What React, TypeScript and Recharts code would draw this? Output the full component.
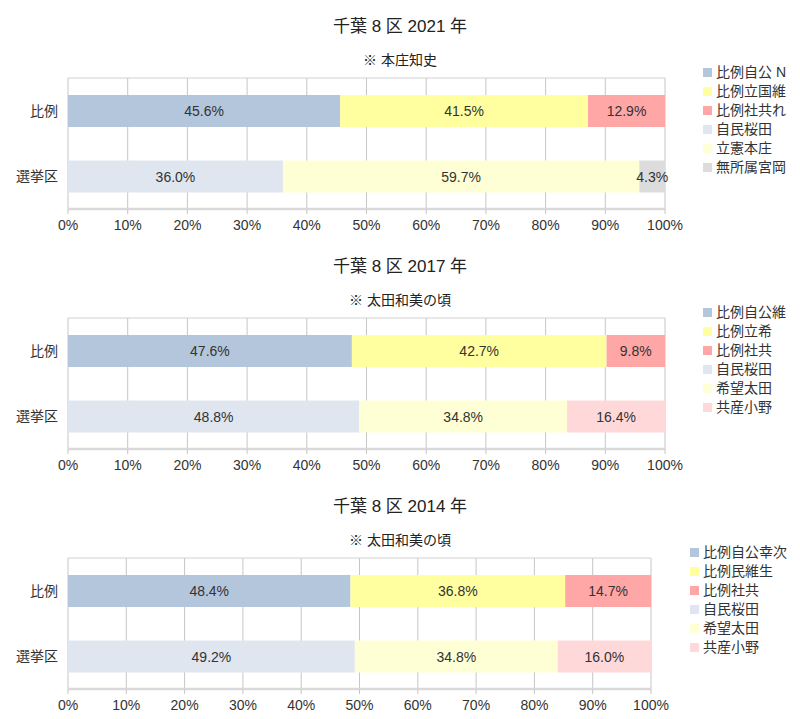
import { Bar, BarChart, CartesianGrid, LabelList, ReferenceLine, XAxis, YAxis } from "recharts";

const FONT = '"Liberation Sans", "Noto Sans CJK JP", sans-serif';

const categories = ["比例", "選挙区"];
const pctTicks = [0, 0.1, 0.2, 0.3, 0.4, 0.5, 0.6, 0.7, 0.8, 0.9, 1];

const names2021 = ["比例自公 N", "比例立国維", "比例社共れ", "自民桜田", "立憲本庄", "無所属宮岡"];
const hirei2021 = [45.6, 41.5, 12.9];
const senkyoku2021 = [36.0, 59.7, 4.3];

const names2017 = ["比例自公維", "比例立希", "比例社共", "自民桜田", "希望太田", "共産小野"];
const hirei2017 = [47.6, 42.7, 9.8];
const senkyoku2017 = [48.8, 34.8, 16.4];

const names2014 = ["比例自公幸次", "比例民維生", "比例社共", "自民桜田", "希望太田", "共産小野"];
const hirei2014 = [48.4, 36.8, 14.7];
const senkyoku2014 = [49.2, 34.8, 16.0];

const colors2021 = ["#b4c6dc", "#ffffa0", "#ffa6a6", "#dfe6ef", "#ffffd6", "#dcdcdc"];
const colors2017 = ["#b4c6dc", "#ffffa0", "#ffa6a6", "#dfe6ef", "#ffffd6", "#ffd9d9"];

// 比例 row gets the first three series, 選挙区 row the last three
const buildRows = (names: string[], hirei: number[], senkyoku: number[]) =>
  categories.map((cat, r) => {
    const row: Record<string, string | number> = { name: cat };
    names.forEach((n, i) => {
      if (r === 0) row[n] = i < 3 ? hirei[i] : 0;
      else row[n] = i >= 3 ? senkyoku[i - 3] : 0;
    });
    return row;
  });

type PanelProps = {
  title: string;
  note: string;
  names: string[];
  hirei: number[];
  senkyoku: number[];
  colors: string[];
  right: number;
  legendLeft: number;
};

const Panel = ({ title, note, names, hirei, senkyoku, colors, right, legendLeft }: PanelProps) => {
  const rows = buildRows(names, hirei, senkyoku);

  return (
    <div style={{ position: "relative", width: 800, height: 240 }}>
      <div
        style={{
          position: "absolute",
          top: 16,
          width: 800,
          textAlign: "center",
          fontFamily: FONT,
          fontSize: 17,
          lineHeight: "22px",
          color: "#222",
        }}
      >
        {title}
      </div>
      <div
        style={{
          position: "absolute",
          top: 51,
          width: 800,
          textAlign: "center",
          fontFamily: FONT,
          fontSize: 14,
          lineHeight: "18px",
          color: "#222",
        }}
      >
        {note}
      </div>
      {/* legend */}
      <div
        style={{
          position: "absolute",
          left: legendLeft,
          top: 63,
          fontFamily: FONT,
          fontSize: 14,
          color: "#333",
          zIndex: 2,
        }}
      >
        {names.map((n, i) => (
          <div key={n} style={{ lineHeight: "19px", whiteSpace: "nowrap" }}>
            <span
              style={{
                display: "inline-block",
                width: 9,
                height: 9,
                background: colors[i],
                marginRight: 4,
              }}
            />
            {n}
          </div>
        ))}
      </div>
      <BarChart
        width={800}
        height={240}
        data={rows}
        layout="vertical"
        stackOffset="expand"
        margin={{ top: 78, right, bottom: 1, left: 10 }}
        style={{ position: "absolute", top: 0, left: 0 }}
      >
        <CartesianGrid horizontal={false} stroke="#c6c6c6" yAxisId="cat" />
        <XAxis
          type="number"
          domain={[0, 1]}
          ticks={pctTicks}
          tickFormatter={(v) => `${Math.round(v * 100)}%`}
          axisLine={{ stroke: "#d9d9d9", strokeWidth: 2.5 }}
          tickLine={{ stroke: "#c6c6c6" }}
          tickSize={5}
          tickMargin={6}
          height={30}
          tick={{ fill: "#333", fontSize: 14, fontFamily: FONT }}
        />
        <YAxis
          yAxisId="edge"
          type="number"
          domain={[0, 2]}
          ticks={[0, 1, 2]}
          width={0}
          tick={false}
          axisLine={false}
          tickLine={{ stroke: "#c6c6c6" }}
          tickSize={5}
        />
        <YAxis
          yAxisId="cat"
          type="category"
          dataKey="name"
          width={58}
          axisLine={false}
          tickLine={false}
          tickMargin={4}
          tick={{ fill: "#333", fontSize: 14, fontFamily: FONT }}
        />
        <ReferenceLine yAxisId="edge" y={0} stroke="#d0d0d0" />
        {names.map((n, i) => (
          <Bar
            key={n}
            dataKey={n}
            yAxisId="cat"
            stackId="a"
            fill={colors[i]}
            barSize={32}
            isAnimationActive={false}
          >
            <LabelList
              dataKey={n}
              content={(p: any) => {
                const raw = Array.isArray(p.value) ? NaN : Number(p.value);
                const v = Number.isFinite(raw) ? raw : Number(p.payload?.[n]);
                if (!v || !(Number(p.width) > 0)) return null;
                return (
                  <text
                    x={Number(p.x) + Number(p.width) / 2}
                    y={Number(p.y) + Number(p.height) / 2}
                    textAnchor="middle"
                    dominantBaseline="central"
                    fontSize={14}
                    fontFamily={FONT}
                    fill="#333"
                  >
                    {`${v.toFixed(1)}%`}
                  </text>
                );
              }}
            />
          </Bar>
        ))}
      </BarChart>
    </div>
  );
};

export default function App() {
  return (
    <div style={{ position: "absolute", top: 0, left: 0, width: 800, height: 719, background: "#fff" }}>
      <Panel
        title="千葉 8 区 2021 年"
        note="※ 本庄知史"
        names={names2021}
        hirei={hirei2021}
        senkyoku={senkyoku2021}
        colors={colors2021}
        right={135}
        legendLeft={703}
      />
      <Panel
        title="千葉 8 区 2017 年"
        note="※ 太田和美の頃"
        names={names2017}
        hirei={hirei2017}
        senkyoku={senkyoku2017}
        colors={colors2017}
        right={135}
        legendLeft={703}
      />
      <Panel
        title="千葉 8 区 2014 年"
        note="※ 太田和美の頃"
        names={names2014}
        hirei={hirei2014}
        senkyoku={senkyoku2014}
        colors={colors2017}
        right={149}
        legendLeft={690}
      />
    </div>
  );
}
